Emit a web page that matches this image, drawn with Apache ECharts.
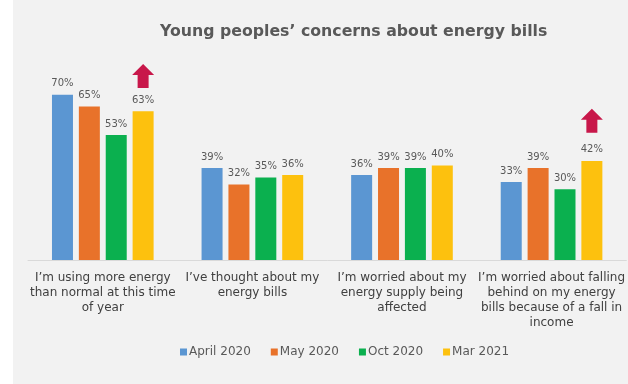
<!DOCTYPE html>
<html>
<head>
<meta charset="utf-8">
<script src="https://cdn.jsdelivr.net/npm/echarts@6/dist/echarts.min.js"></script>
<style>
html,body{margin:0;padding:0;background:#ffffff;}
#chart{width:628px;height:384px;}
</style>
</head>
<body>
<div id="chart"></div>
<script>
var titleText = "Young peoples\u2019 concerns about energy bills";
var categories = [
  "I\u2019m using more energy\nthan normal at this time\nof year",
  "I\u2019ve thought about my\nenergy bills",
  "I\u2019m worried about my\nenergy supply being\naffected",
  "I\u2019m worried about falling\nbehind on my energy\nbills because of a fall in\nincome"
];
var seriesNames = ["April 2020", "May 2020", "Oct 2020", "Mar 2021"];
var april2020 = [70, 39, 36, 33];
var may2020 = [65, 32, 39, 39];
var oct2020 = [53, 35, 39, 30];
var mar2021 = [63, 36, 40, 42];
var colors = ["#5b96d2", "#e8722a", "#0bb04f", "#fdc10e"];
// arrows marking increases (category index, value position)
var arrowMarks = [[0, 78], [3, 59]];

var font = "DejaVu Sans";
var values = [april2020, may2020, oct2020, mar2021];
var series = values.map(function (v, i) {
  var s = {
    name: seriesNames[i],
    type: 'bar',
    data: v,
    barWidth: 21,
    barGap: '28%',
    itemStyle: { color: colors[i] },
    label: {
      show: true, position: 'top', distance: 6,
      formatter: '{c}%', color: '#595959', fontSize: 10, fontFamily: font
    }
  };
  if (i === 3) {
    s.markPoint = {
      symbol: 'path://M11,0 L22,11 L16.5,11 L16.5,24 L5.5,24 L5.5,11 L0,11 Z',
      symbolSize: [22, 24],
      itemStyle: { color: '#c8174a' },
      label: { show: false },
      data: arrowMarks.map(function (a) { return { coord: a }; })
    };
  }
  return s;
});

var chart = echarts.init(document.getElementById('chart'));
chart.setOption({
  backgroundColor: '#f2f2f2',
  animation: false,
  graphic: [{ type: 'rect', left: 0, top: 0, shape: { width: 13, height: 384 }, style: { fill: '#ffffff' } }],
  title: {
    text: titleText, left: 155, top: 19,
    textStyle: { fontFamily: font, fontSize: 15.75, fontWeight: 'bold', color: '#595959' }
  },
  legend: {
    data: seriesNames, top: 341, left: 175,
    icon: 'rect', itemWidth: 7, itemHeight: 7, itemGap: 20,
    textStyle: { fontFamily: font, fontSize: 12, color: '#595959', padding: [0, 0, 0, -3] }
  },
  grid: { left: 28, right: 1, top: 24, bottom: 124, containLabel: false },
  xAxis: {
    type: 'category', data: categories,
    axisLine: { lineStyle: { color: '#d9d9d9' } },
    axisTick: { show: false },
    axisLabel: { interval: 0, fontFamily: font, fontSize: 12, color: '#404040', lineHeight: 15, margin: 10 }
  },
  yAxis: { type: 'value', min: 0, max: 100, show: false, splitLine: { show: false } },
  series: series
});
</script>
</body>
</html>
